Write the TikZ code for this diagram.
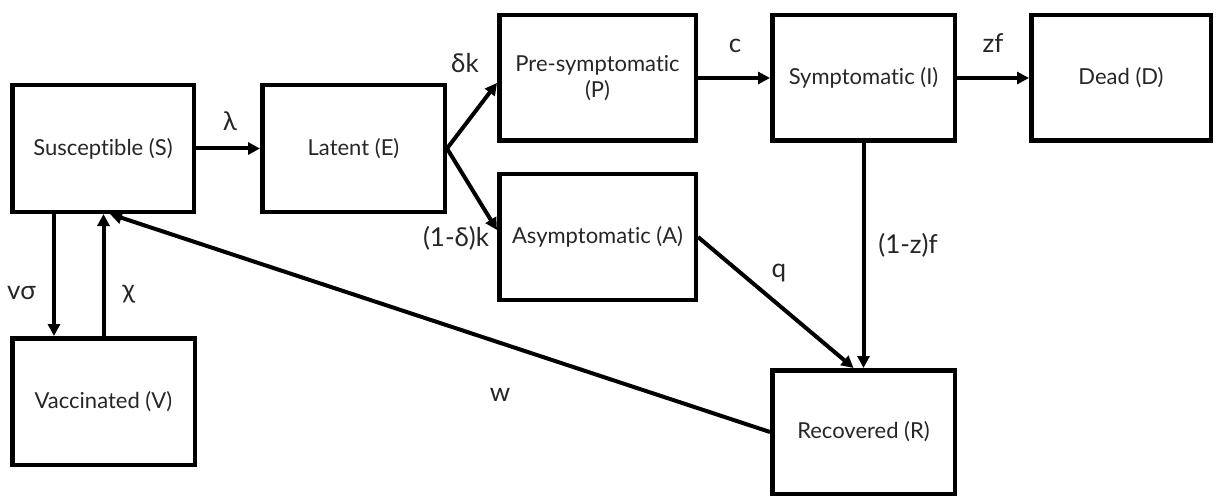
\documentclass[tikz,border=0pt]{standalone}
\usepackage{fontspec}
\setmainfont{Lato}[Ligatures={NoCommon}]
\usetikzlibrary{arrows.meta,calc}
\begin{document}
\begin{tikzpicture}[x=1pt,y=-1pt,
  box/.style={draw=black, line width=4.5pt, rectangle, align=center, inner sep=0pt,
    font=\fontsize{22}{26}\selectfont, text=black!85},
  flow/.style={line width=4pt, -{Triangle[length=12pt,width=12pt]}},
  lab/.style={font=\fontsize{26}{30}\selectfont, anchor=base, inner sep=0pt, text=black!85}]
\useasboundingbox (0,0) rectangle (1217,497);
% compartments
\node[box, minimum width=181.5pt, minimum height=126.5pt] (S) at (103,148.5) {Susceptible (S)};
\node[box, minimum width=182.5pt, minimum height=126.5pt] (E) at (353.5,148.5) {Latent (E)};
\node[box, minimum width=196.5pt, minimum height=125.5pt] (P) at (597.5,78) {Pre-symptomatic\\(P)};
\node[box, minimum width=196.5pt, minimum height=125.5pt] (A) at (597.5,237) {Asymptomatic (A)};
\node[box, minimum width=182.5pt, minimum height=125.5pt] (I) at (863.5,78) {Symptomatic (I)};
\node[box, minimum width=179.5pt, minimum height=125.5pt] (D) at (1121,78) {Dead (D)};
\node[box, minimum width=182.5pt, minimum height=126.5pt] (V) at (103.5,401.5) {Vaccinated (V)};
\node[box, minimum width=182.5pt, minimum height=123.5pt] (R) at (863.5,432) {Recovered (R)};
% flows
\draw[flow] (S.east) -- (E.west);
\draw[flow] (E.east) -- ($(P.west)+(0,5)$);
\draw[flow] (E.east) -- ($(A.west)+(0,-7)$);
\draw[flow] (P.east) -- (I.west);
\draw[flow] (I.east) -- (D.west);
\draw[flow] (I.south) -- (R.north);
\draw[flow] (A.east) -- ($(R.north)+(-10,0)$);
\draw[flow] (R.west) -- ($(S.south)+(7,0)$);
\coordinate (sv) at ($(S.south)+(-49,0)$);
\draw[flow] (sv) -- (sv |- V.north);
\draw[flow] (V.north) -- (V.north |- S.south);
% labels
\node[lab] (llam) at (230,131) {λ};
\node[lab] (lc) at (735,53) {c};
\node[lab] (lzf) at (993,53) {zf};
\node[lab] (ldk) at (465,73) {δk};
\node[lab] (l1dk) at (456,246) {(1-δ)k};
\node[lab] (lq) at (779,277) {q};
\node[lab] (l1zf) at (908,253) {(1-z)f};
\node[lab] (lvs) at (21.5,299) {vσ};
\node[lab] (lchi) at (128.5,298) {χ};
\node[lab] (lw) at (500,401) {w};
\end{tikzpicture}
\end{document}
